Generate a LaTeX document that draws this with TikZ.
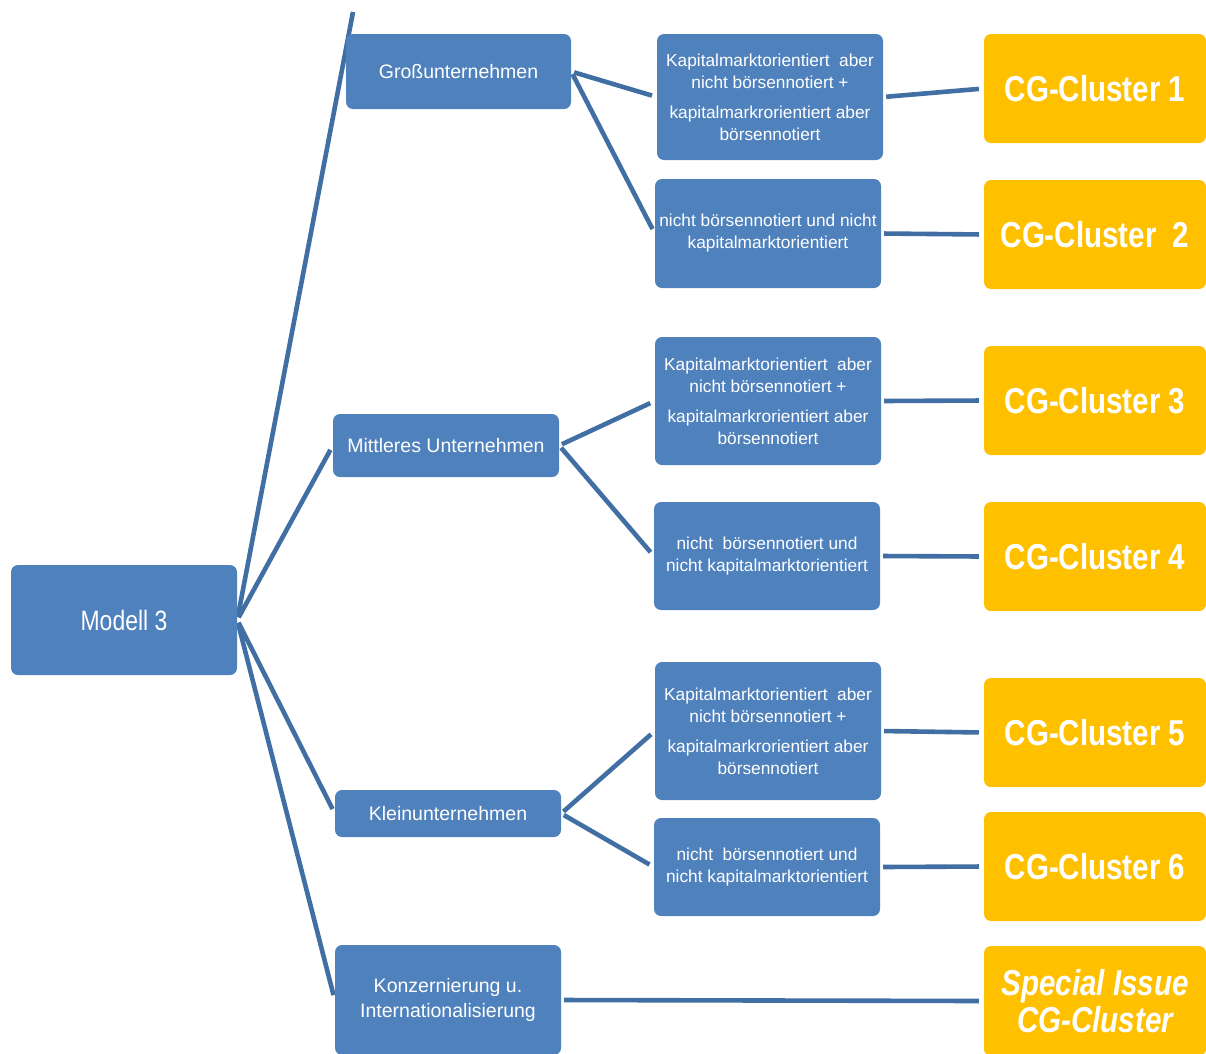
\documentclass[tikz,border=0pt]{standalone}
\usepackage{fontspec}
\setmainfont{Liberation Sans}
\newfontfamily\narrowfont{Liberation Sans}[FakeStretch=0.82]
\usetikzlibrary{backgrounds}
\definecolor{boxblue}{HTML}{4F81BD}
\definecolor{linkblue}{HTML}{416FA3}
\definecolor{gold}{HTML}{FFC000}
\tikzset{
  x=1pt,y=-1pt,
  bluebox/.style={rectangle,rounded corners=7pt,fill=boxblue,text=white,
    inner sep=0pt,align=center,minimum width=226pt},
  catbox/.style={bluebox,font=\fontsize{19.5}{25}\selectfont},
  subbox/.style={bluebox,font=\fontsize{17.3}{22}\selectfont},
  cgbox/.style={rectangle,rounded corners=7pt,fill=gold,text=white,inner sep=0pt,
    align=center,minimum width=222pt,minimum height=109pt,
    font=\narrowfont\fontsize{36}{40}\selectfont\bfseries},
  link/.style={draw=linkblue,line width=4.6pt,shorten <=3pt,shorten >=5pt}
}
\begin{document}
\begin{tikzpicture}
\useasboundingbox (0,0) rectangle (1206,1053);
\clip (0,0) rectangle (1206,1053);
% root
\node[bluebox,minimum height=110pt,font=\narrowfont\fontsize{28}{32}\selectfont] (modell) at (124,620) {Modell 3};
% categories
\node[catbox,minimum width=225pt,minimum height=75pt] (gross) at (458.5,71.5) {Großunternehmen};
\node[catbox,minimum height=63pt] (mittel) at (446,445.5) {Mittleres Unternehmen};
\node[catbox,minimum height=47pt] (klein) at (448,813.5) {Kleinunternehmen};
\node[catbox,minimum height=110pt] (konz) at (448,1000) {Konzernierung u.\\Internationalisierung};
% sub boxes
\node[subbox,minimum height=126pt] (k1) at (770,97) {Kapitalmarktorientiert\ \ aber\\nicht börsennotiert +\\[8pt]kapitalmarkrorientiert aber\\börsennotiert};
\node[subbox,minimum height=109pt] (n2) at (768,233.5) {nicht börsennotiert und nicht\\kapitalmarktorientiert};
\node[subbox,minimum height=128pt] (k3) at (768,401) {Kapitalmarktorientiert\ \ aber\\nicht börsennotiert +\\[8pt]kapitalmarkrorientiert aber\\börsennotiert};
\node[subbox,minimum height=108pt] (n4) at (767,556) {nicht\ \ börsennotiert und\\nicht kapitalmarktorientiert};
\node[subbox,minimum height=138pt] (k5) at (768,731) {Kapitalmarktorientiert\ \ aber\\nicht börsennotiert +\\[8pt]kapitalmarkrorientiert aber\\börsennotiert};
\node[subbox,minimum height=98pt] (n6) at (767,867) {nicht\ \ börsennotiert und\\nicht kapitalmarktorientiert};
% clusters
\node[cgbox] (cg1) at (1095,88.5) {CG-Cluster 1};
\node[cgbox] (cg2) at (1095,234.5) {CG-Cluster\ \ 2};
\node[cgbox] (cg3) at (1095,400.5) {CG-Cluster 3};
\node[cgbox] (cg4) at (1095,556.5) {CG-Cluster 4};
\node[cgbox] (cg5) at (1095,732.5) {CG-Cluster 5};
\node[cgbox] (cg6) at (1095,866.5) {CG-Cluster 6};
\node[cgbox,minimum height=110pt,font=\narrowfont\fontsize{36}{37}\selectfont\bfseries\itshape] (special) at (1095,1001) {Special Issue\\CG-Cluster};
\coordinate (topend) at (353,12);
% connectors
\begin{scope}[on background layer]
\draw[link,shorten >=0pt] (modell.east) -- (topend);
\draw[link] (modell.east) -- (mittel.west);
\draw[link] (modell.east) -- (klein.west);
\draw[link] (modell.east) -- (konz.west);
\draw[link] (gross.east) -- (k1.west);
\draw[link] (gross.east) -- (n2.west);
\draw[link] (mittel.east) -- (k3.west);
\draw[link] (mittel.east) -- (n4.west);
\draw[link] (klein.east) -- (k5.west);
\draw[link] (klein.east) -- (n6.west);
\draw[link] (k1.east) -- (cg1.west);
\draw[link] (n2.east) -- (cg2.west);
\draw[link] (k3.east) -- (cg3.west);
\draw[link] (n4.east) -- (cg4.west);
\draw[link] (k5.east) -- (cg5.west);
\draw[link] (n6.east) -- (cg6.west);
\draw[link] (konz.east) -- (special.west);
\end{scope}
\end{tikzpicture}
\end{document}
